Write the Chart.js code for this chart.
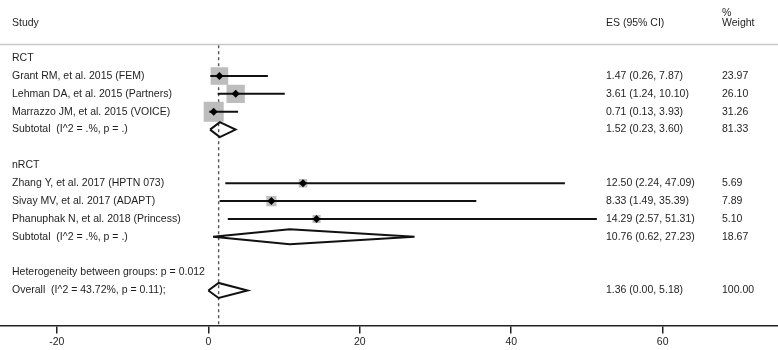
<!DOCTYPE html>
<html>
<head>
<meta charset="utf-8">
<script src="https://cdn.jsdelivr.net/npm/chart.js@4/dist/chart.umd.min.js"></script>
<style>
  html, body { margin: 0; padding: 0; background: #ffffff; }
  #wrap { width: 778px; height: 350px; position: relative; }
</style>
</head>
<body>
<div id="wrap"><canvas id="c" width="778" height="350"></canvas></div>
<script>
// ---- data ----
const groupHeaders = ['RCT', 'nRCT'];
const groupRows = [0, 6];

const studies = [
  'Grant RM, et al. 2015 (FEM)',
  'Lehman DA, et al. 2015 (Partners)',
  'Marrazzo JM, et al. 2015 (VOICE)',
  'Zhang Y, et al. 2017 (HPTN 073)',
  'Sivay MV, et al. 2017 (ADAPT)',
  'Phanuphak N, et al. 2018 (Princess)'
];
const studyES = [1.47, 3.61, 0.71, 12.50, 8.33, 14.29];
const studyLo = [0.26, 1.24, 0.13, 2.24, 1.49, 2.57];
const studyHi = [7.87, 10.10, 3.93, 47.09, 35.39, 51.31];
const studyWeight = [23.97, 26.10, 31.26, 5.69, 7.89, 5.10];
const studyRows = [1, 2, 3, 7, 8, 9];

const pooled = [
  'Subtotal  (I^2 = .%, p = .)',
  'Subtotal  (I^2 = .%, p = .)',
  'Overall  (I^2 = 43.72%, p = 0.11);'
];
const pooledES = [1.52, 10.76, 1.36];
const pooledLo = [0.23, 0.62, 0.00];
const pooledHi = [3.60, 27.23, 5.18];
const pooledWeight = [81.33, 18.67, 100.00];
const pooledRows = [4, 10, 13];

const heterogeneityText = 'Heterogeneity between groups: p = 0.012';
const heterogeneityRow = 12;

const xTicks = [-20, 0, 20, 40, 60];

// ---- styling / layout constants ----
const FONT = '"Liberation Sans", Arial, Helvetica, sans-serif';
const FS = 10.5;
const TXT = '#1e1e1e';
const X_MIN = -27.51, X_MAX = 75.23;
const Y_MIN = -3.25, Y_MAX = 14.96;
const DIAMOND_HALF = 0.42;
const BOX_SCALE = 3.59; // px per sqrt(weight)
const overallES = pooledES[2];

const datasets = [];

// reference dashed line at overall estimate
datasets.push({
  type: 'line',
  data: [{x: overallES, y: -0.72}, {x: overallES, y: Y_MAX}],
  borderColor: '#555',
  borderWidth: 1.4,
  borderDash: [3, 3],
  pointRadius: 0,
  order: 5
});

// weight boxes
datasets.push({
  type: 'scatter',
  data: studyES.map((v, i) => ({x: v, y: studyRows[i]})),
  pointStyle: 'rect',
  pointRadius: studyWeight.map(w => BOX_SCALE * Math.sqrt(w) / Math.SQRT2),
  pointBackgroundColor: '#bdbdbd',
  pointBorderWidth: 0,
  pointBorderColor: 'rgba(0,0,0,0)',
  order: 4
});

// confidence interval lines
studyES.forEach((v, i) => {
  datasets.push({
    type: 'line',
    data: [{x: studyLo[i], y: studyRows[i]}, {x: studyHi[i], y: studyRows[i]}],
    borderColor: '#111',
    borderWidth: 2,
    pointRadius: 0,
    order: 3
  });
});

// point estimate markers
datasets.push({
  type: 'scatter',
  data: studyES.map((v, i) => ({x: v, y: studyRows[i]})),
  pointStyle: 'rectRot',
  pointRadius: 4,
  pointBackgroundColor: '#000',
  pointBorderWidth: 0,
  order: 1
});

// pooled diamonds
pooledES.forEach((v, i) => {
  const r = pooledRows[i];
  datasets.push({
    type: 'line',
    data: [
      {x: pooledLo[i], y: r},
      {x: v, y: r - DIAMOND_HALF},
      {x: pooledHi[i], y: r},
      {x: v, y: r + DIAMOND_HALF},
      {x: pooledLo[i], y: r}
    ],
    borderColor: '#111',
    borderWidth: 2,
    borderJoinStyle: 'miter',
    pointRadius: 0,
    fill: false,
    order: 2
  });
});

const textPlugin = {
  id: 'forestText',
  afterDraw(chart) {
    const ctx = chart.ctx;
    const ys = chart.scales.y;
    const W = chart.width;
    ctx.save();
    // header separator
    const sepY = Math.round(ys.getPixelForValue(-0.78)) + 0.5;
    ctx.strokeStyle = '#c8c8c8';
    ctx.lineWidth = 1.5;
    ctx.beginPath();
    ctx.moveTo(0, sepY);
    ctx.lineTo(W, sepY);
    ctx.stroke();

    ctx.fillStyle = TXT;
    ctx.font = FS + 'px ' + FONT;
    ctx.textBaseline = 'middle';
    ctx.textAlign = 'left';
    const xName = 12, xES = 606, xW = 722;
    // headers
    const hY = ys.getPixelForValue(-1.96);
    ctx.fillText('Study', xName, hY);
    ctx.fillText('ES (95% CI)', xES, hY);
    ctx.fillText('Weight', xW, hY);
    ctx.fillText('%', xW, ys.getPixelForValue(-2.52));

    groupHeaders.forEach((g, i) => ctx.fillText(g, xName, ys.getPixelForValue(groupRows[i])));
    const fmt = (e, l, h) => e.toFixed(2) + ' (' + l.toFixed(2) + ', ' + h.toFixed(2) + ')';
    studies.forEach((s, i) => {
      const y = ys.getPixelForValue(studyRows[i]);
      ctx.fillText(s, xName, y);
      ctx.fillText(fmt(studyES[i], studyLo[i], studyHi[i]), xES, y);
      ctx.fillText(studyWeight[i].toFixed(2), xW, y);
    });
    pooled.forEach((s, i) => {
      const y = ys.getPixelForValue(pooledRows[i]);
      ctx.fillText(s, xName, y);
      ctx.fillText(fmt(pooledES[i], pooledLo[i], pooledHi[i]), xES, y);
      ctx.fillText(pooledWeight[i].toFixed(2), xW, y);
    });
    ctx.fillText(heterogeneityText, xName, ys.getPixelForValue(heterogeneityRow));
    ctx.restore();
  }
};

new Chart(document.getElementById('c'), {
  type: 'scatter',
  data: { datasets },
  options: {
    responsive: false,
    animation: false,
    events: [],
    layout: { autoPadding: false, padding: 0 },
    plugins: { legend: { display: false }, tooltip: { enabled: false } },
    scales: {
      x: {
        type: 'linear',
        min: X_MIN,
        max: X_MAX,
        afterBuildTicks: (scale) => { scale.ticks = xTicks.map(v => ({value: v})); },
        grid: { drawOnChartArea: false, drawTicks: true, tickLength: 8, color: '#222', lineWidth: 1.5 },
        border: { display: true, color: '#222', width: 1.5 },
        ticks: { color: TXT, font: { family: FONT, size: FS, lineHeight: 1.0 }, padding: 3, maxRotation: 0 }
      },
      y: {
        type: 'linear',
        display: false,
        reverse: true,
        min: Y_MIN,
        max: Y_MAX
      }
    }
  },
  plugins: [textPlugin]
});
</script>
</body>
</html>
